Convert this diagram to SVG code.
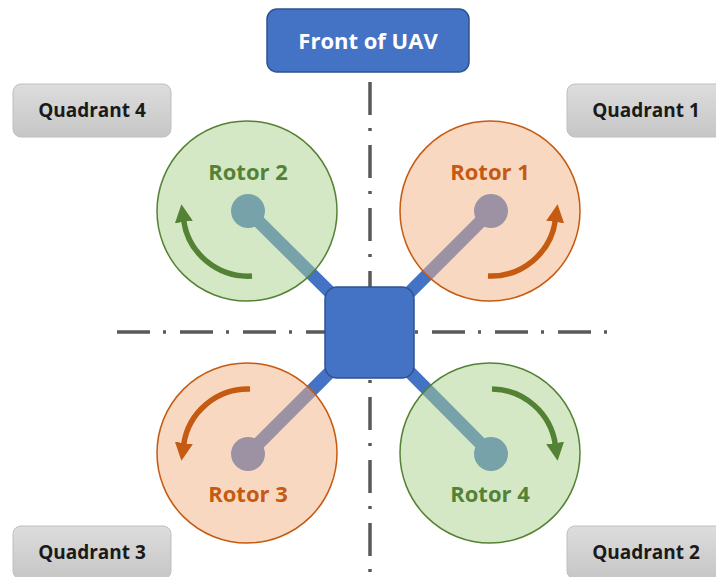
<svg xmlns="http://www.w3.org/2000/svg" width="716" height="577" viewBox="0 0 716 577">
  <style>
    .axis { fill: none; stroke: #595959; stroke-width: 3.5; stroke-dasharray: 33 13 3 14; }
    .arm { stroke: #4472C4; stroke-width: 13; stroke-linecap: butt; }
    .hub { fill: #4472C4; }
    .blue { fill: #4472C4; stroke: #2F528F; stroke-width: 1.5; }
    .quad rect { fill: url(#grey); stroke: #BFBFBF; stroke-width: 1; }
    .quad text { font-family: "Open Sans", "Liberation Sans", sans-serif; font-weight: 700; font-size: 19px; fill: #1a1a1a; text-anchor: middle; }
    .label { font-family: "Open Sans", "Liberation Sans", sans-serif; font-weight: 700; font-size: 22px; text-anchor: middle; }
    .g-disc { fill: #A9D18E; fill-opacity: 0.5; stroke: #548235; stroke-width: 1.5; }
    .o-disc { fill: #F4B183; fill-opacity: 0.5; stroke: #C55A11; stroke-width: 1.5; }
    .g-text { fill: #548235; }
    .o-text { fill: #C55A11; }
    .g-arc { fill: none; stroke: #548235; stroke-width: 5.5; marker-end: url(#headG); }
    .o-arc { fill: none; stroke: #C55A11; stroke-width: 5.5; marker-end: url(#headO); }
  </style>
  <defs>
    <linearGradient id="grey" x1="0" y1="0" x2="0" y2="1">
      <stop offset="0" stop-color="#DDDDDD"/>
      <stop offset="1" stop-color="#C6C6C6"/>
    </linearGradient>
    <marker id="headG" markerUnits="userSpaceOnUse" markerWidth="19" markerHeight="19" refX="2" refY="9" orient="auto">
      <path d="M0,0 L18,9 L0,18 Z" fill="#548235"/>
    </marker>
    <marker id="headO" markerUnits="userSpaceOnUse" markerWidth="19" markerHeight="19" refX="2" refY="9" orient="auto">
      <path d="M0,0 L18,9 L0,18 Z" fill="#C55A11"/>
    </marker>
  </defs>

  <!-- body axes -->
  <g id="axes">
    <line class="axis" x1="370" y1="82" x2="370" y2="577"/>
    <line class="axis" x1="117" y1="332" x2="610" y2="332"/>
  </g>

  <!-- frame arms joining the body to each hub -->
  <g id="connectors">
    <line class="arm" x1="248" y1="211" x2="370" y2="332"/>
    <line class="arm" x1="491" y1="211" x2="370" y2="332"/>
    <line class="arm" x1="248" y1="454" x2="370" y2="332"/>
    <line class="arm" x1="491" y1="454" x2="370" y2="332"/>
  </g>

  <g id="front">
    <rect class="blue" x="267" y="9" width="202" height="63" rx="10"/>
    <text class="label" x="368" y="49" fill="#FFFFFF">Front of UAV</text>
  </g>

  <g id="body">
    <rect class="blue" x="325" y="287" width="89" height="91" rx="12"/>
  </g>

  <g id="rotor1">
    <circle class="hub" cx="491" cy="211" r="17"/>
    <circle class="o-disc" cx="490" cy="211" r="90"/>
    <text class="label o-text" x="490" y="180">Rotor 1</text>
    <path class="o-arc" d="M488,276 A65,65 0 0 0 555.4,220"/>
  </g>

  <g id="rotor2">
    <circle class="hub" cx="248" cy="211" r="17"/>
    <circle class="g-disc" cx="247" cy="211" r="90"/>
    <text class="label g-text" x="248" y="180">Rotor 2</text>
    <path class="g-arc" d="M252,276 A65,65 0 0 1 183.6,220"/>
  </g>

  <g id="rotor3">
    <circle class="hub" cx="248" cy="454" r="17"/>
    <circle class="o-disc" cx="247" cy="453" r="90"/>
    <text class="label o-text" x="248" y="502">Rotor 3</text>
    <path class="o-arc" d="M250,389 A65,65 0 0 0 183.6,445"/>
  </g>

  <g id="rotor4">
    <circle class="hub" cx="491" cy="454" r="17"/>
    <circle class="g-disc" cx="490" cy="453" r="90"/>
    <text class="label g-text" x="490" y="502">Rotor 4</text>
    <path class="g-arc" d="M492,389 A65,65 0 0 1 555.4,445"/>
  </g>

  <g id="quadrant4" class="quad">
    <rect x="13" y="84" width="158" height="53" rx="8"/>
    <text x="92" y="117">Quadrant 4</text>
  </g>
  <g id="quadrant1" class="quad">
    <rect x="567" y="84" width="158" height="53" rx="8"/>
    <text x="646" y="117">Quadrant 1</text>
  </g>
  <g id="quadrant3" class="quad">
    <rect x="13" y="526" width="158" height="53" rx="8"/>
    <text x="92" y="559">Quadrant 3</text>
  </g>
  <g id="quadrant2" class="quad">
    <rect x="567" y="526" width="158" height="53" rx="8"/>
    <text x="646" y="559">Quadrant 2</text>
  </g>
</svg>
